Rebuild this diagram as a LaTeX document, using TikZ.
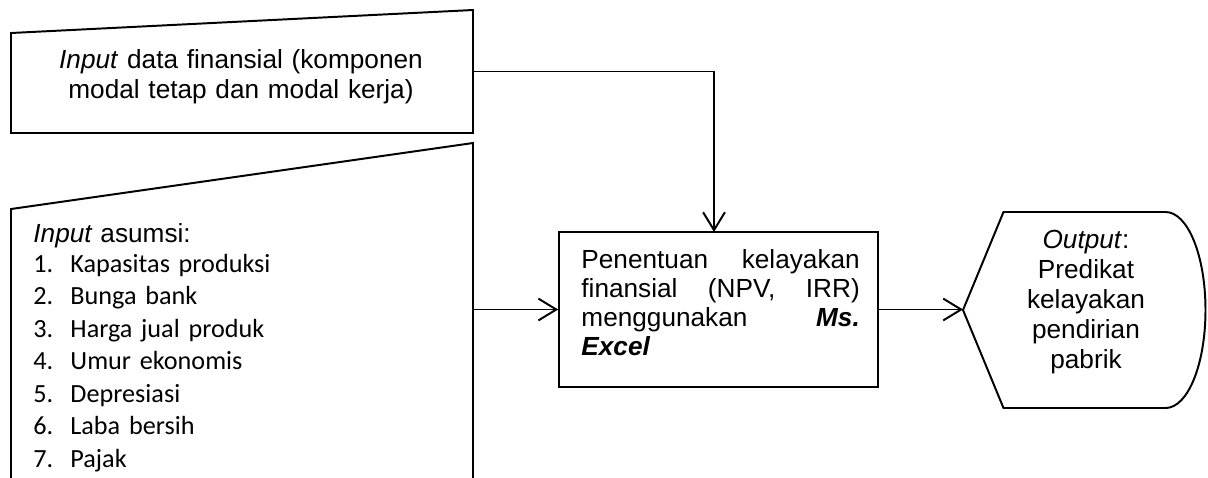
\documentclass[tikz,border=0pt]{standalone}
\usepackage{fontspec}
\setmainfont{Liberation Sans}
\newfontfamily\calibrif{Carlito}
\usetikzlibrary{arrows.meta}

% numbered entry of the assumption list: number column, then the item
\newcommand{\asmitem}[2]{\makebox[16.95pt][l]{#1}#2}

\begin{document}
\begin{tikzpicture}[
  x=0.458pt, y=-0.458pt,
  edge/.style={draw=black, line width=0.9pt, line join=miter},
  procbox/.style={draw=black, line width=0.75pt, rectangle,
    minimum width=146.1pt, minimum height=71pt, inner sep=0pt},
  flow/.style={draw=black, line width=0.9pt,
    -{Straight Barb[length=8.2pt, width=10pt]}},
  txt/.style={inner sep=0pt, font=\fontsize{12}{13.74}\selectfont},
]
\useasboundingbox (0,0) rectangle (1208,477);
\clip (0,0) rectangle (1208,477);

% manual input: financial data
\draw[edge] (11,33) -- (473,10) -- (473,133) -- (11,133) -- cycle;
\coordinate (finOut) at (473,71.5);
\node[txt, text width=192pt, align=center, anchor=base] (fintext) at (241,68)
  {\textit{Input} data finansial (komponen\\ modal tetap dan modal kerja)};

% manual input: assumptions (runs past the lower edge)
\draw[edge] (11,495) -- (11,209) -- (473,143) -- (473,495);
\coordinate (asmOut) at (473,309.5);
\node[inner sep=0pt, text width=200pt, align=left, anchor=base west,
  font=\calibrif\fontsize{12}{14.9}\selectfont] (asmtext) at (33,242)
  {{\rmfamily\itshape Input} {\rmfamily asumsi:}\\[-1.16pt]
   \asmitem{1.}{Kapasitas produksi}\\
   \asmitem{2.}{Bunga bank}\\
   \asmitem{3.}{Harga jual produk}\\
   \asmitem{4.}{Umur ekonomis}\\
   \asmitem{5.}{Depresiasi}\\
   \asmitem{6.}{Laba bersih}\\
   \asmitem{7.}{Pajak}};

% process
\node[procbox] (proc) at (718.5,309.5) {};
\node[inner sep=0pt, text width=127.5pt, align=left, anchor=base west,
  font=\fontsize{12}{13.3}\selectfont] (proctext) at (581,268)
  {Penentuan\hfill kelayakan\\
   finansial\hfill (NPV,\hfill IRR)\\
   menggunakan\hfill \textbf{\textit{Ms.}}\\
   \textbf{\textit{Excel}}};
\coordinate (drop) at (714,232);

% display: output
\draw[edge] (963,310) -- (1003.5,212) -- (1165.5,212)
  .. controls (1187.9,212) and (1205.5,255.9) .. (1205.5,310)
  .. controls (1205.5,364.1) and (1187.9,408) .. (1165.5,408)
  -- (1003.5,408) -- cycle;
\coordinate (outIn) at (963,309.5);
\node[txt, text width=100pt, align=center, anchor=base] (outtext) at (1086,248)
  {\textit{Output}:\\ Predikat\\ kelayakan\\ pendirian\\ pabrik};

% connectors
\draw[flow] (finOut) -| (drop);
\draw[flow] (asmOut) -- (proc.west);
\draw[flow] (proc.east) -- (outIn);
\end{tikzpicture}
\end{document}
